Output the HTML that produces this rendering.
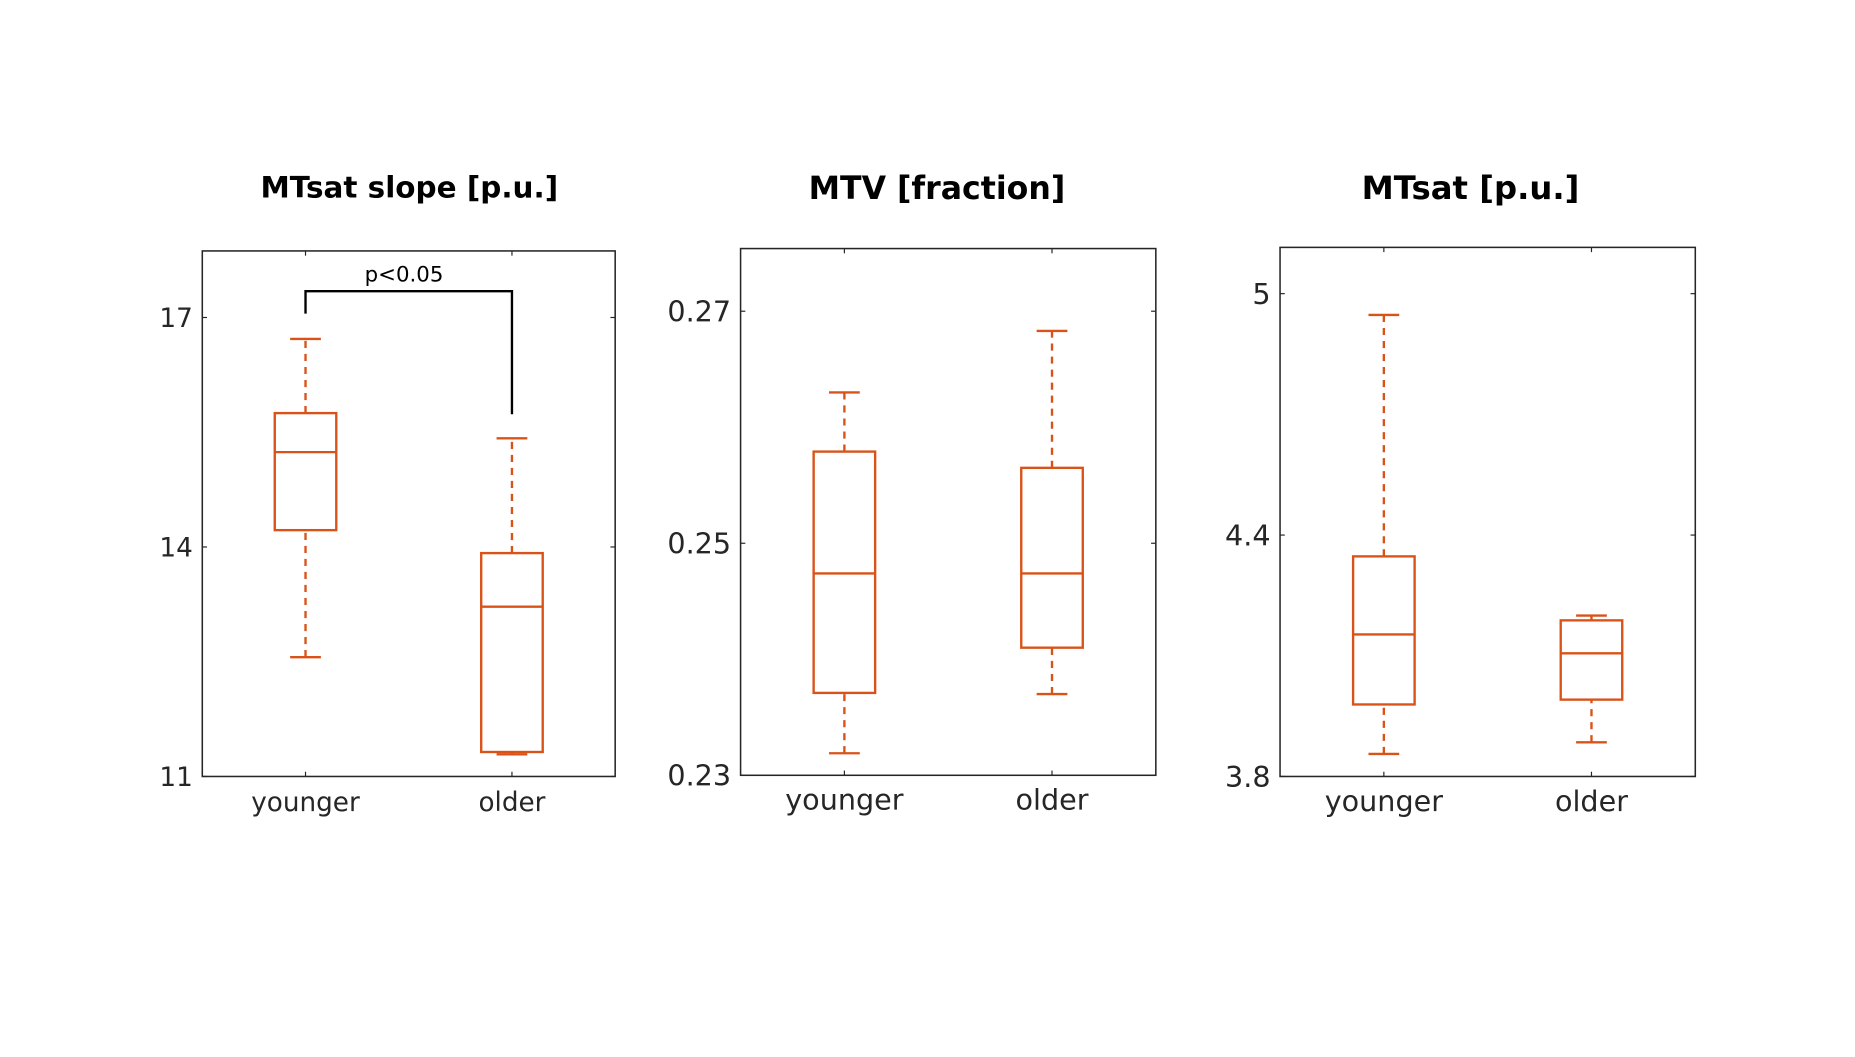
<!DOCTYPE html>
<html><head><meta charset="utf-8"><style>
html,body{margin:0;padding:0;background:#fff;width:1855px;height:1057px;overflow:hidden}
svg{display:block}
text{font-family:"DejaVu Sans","Liberation Sans",sans-serif;fill:#262626}
</style></head><body>
<svg id="fig" width="1855" height="1057" viewBox="0 0 1568 893" preserveAspectRatio="none"></svg>
<script>
const categories = ['younger','older'];
const titles = ['MTsat slope [p.u.]','MTV [fraction]','MTsat [p.u.]'];
const yMin = [11, 0.23, 3.8];
const yMax = [17.87, 0.2754, 5.115];
const tickVals = [[11,14,17],[0.23,0.25,0.27],[3.8,4.4,5]];
const tickLabels = [['11','14','17'],['0.23','0.25','0.27'],['3.8','4.4','5']];
// [whiskerLow, q1, median, q3, whiskerHigh] for younger / older
const youngerStats = [[12.56,14.22,15.24,15.75,16.72],[0.2319,0.2371,0.2474,0.2579,0.2630],[3.856,3.979,4.153,4.347,4.947]];
const olderStats = [[11.29,11.32,13.22,13.92,15.42],[0.2370,0.2410,0.2474,0.2565,0.2683],[3.885,3.991,4.106,4.188,4.200]];
const panelBoxes=[[171,212,520,656],[626,210,977,655],[1082,209,1433,656]];
const titleX=[346,792,1243];
const titleY=[167,168,168];
const titleSize=[24.9,26.7,27.3];
const labelSize=[22.2,24.2,24.2];
const NS='http://www.w3.org/2000/svg';
const svg=document.getElementById('fig');
const C='#D95319';
function mk(tag,attrs,parent){const e=document.createElementNS(NS,tag);for(const k in attrs)e.setAttribute(k,attrs[k]);(parent||svg).appendChild(e);return e;}
panelBoxes.forEach((b,p)=>{
  const [x0,y0,x1,y1]=b;
  const g=mk('g',{});
  
  
  const ys=v=>y1-(v-yMin[p])/(yMax[p]-yMin[p])*(y1-y0);
  const xs=i=>x0+(x1-x0)*(0.25+0.5*i);
  const t=mk('text',{x:titleX[p],y:titleY[p],'text-anchor':'middle','font-size':titleSize[p],'font-weight':'bold'},g);
  t.textContent=titles[p];t.style.fill='#000';
  
  
  const fr=mk('rect',{x:x0,y:y0,width:x1-x0,height:y1-y0,fill:'none',stroke:'#262626','stroke-width':1.3},g);
  
  
  const ls=labelSize[p];
  tickVals[p].forEach((v,i)=>{
    const y=ys(v);
    mk('line',{x1:x0,x2:x0+4,y1:y,y2:y,stroke:'#262626'},g);
    mk('line',{x1:x1,x2:x1-4,y1:y,y2:y,stroke:'#262626'},g);
    const tl=mk('text',{x:x0-8,y:y+ls*0.36,'text-anchor':'end','font-size':ls},g);
    tl.textContent=tickLabels[p][i];
    
    
  });
  categories.forEach((c,i)=>{
    const x=xs(i);
    mk('line',{x1:x,x2:x,y1:y1,y2:y1-4,stroke:'#262626'},g);
    mk('line',{x1:x,x2:x,y1:y0,y2:y0+4,stroke:'#262626'},g);
    const xl=mk('text',{x:x,y:y1+29,'text-anchor':'middle','font-size':ls},g);
    xl.textContent=c;
    
    
    const s=(i===0?youngerStats:olderStats)[p];
    const bg=mk('g',{},g);
    
    
    const st={stroke:C,'stroke-width':2,fill:'none'};
    mk('line',Object.assign({x1:x,x2:x,y1:ys(s[3]),y2:ys(s[4]),'stroke-dasharray':'6,5'},st),bg);
    mk('line',Object.assign({x1:x,x2:x,y1:ys(s[0]),y2:ys(s[1]),'stroke-dasharray':'6,5'},st),bg);
    mk('line',Object.assign({x1:x-13,x2:x+13,y1:ys(s[4]),y2:ys(s[4])},st),bg);
    mk('line',Object.assign({x1:x-13,x2:x+13,y1:ys(s[0]),y2:ys(s[0])},st),bg);
    mk('rect',Object.assign({x:x-26,y:ys(s[3]),width:52,height:ys(s[1])-ys(s[3])},st),bg);
    mk('line',Object.assign({x1:x-26,x2:x+26,y1:ys(s[2]),y2:ys(s[2])},st),bg);
  });
  if(p===0){
    const br=mk('path',{d:`M${xs(0)} 265 V246 H${xs(1)} V350`,fill:'none',stroke:'#000','stroke-width':2},g);
    
    
    const pt=mk('text',{x:(xs(0)+xs(1))/2-4,y:238,'text-anchor':'middle','font-size':'18'},g);
    pt.textContent='p<0.05';pt.style.fill='#000';
    
    
  }
});
</script>
</body></html>
